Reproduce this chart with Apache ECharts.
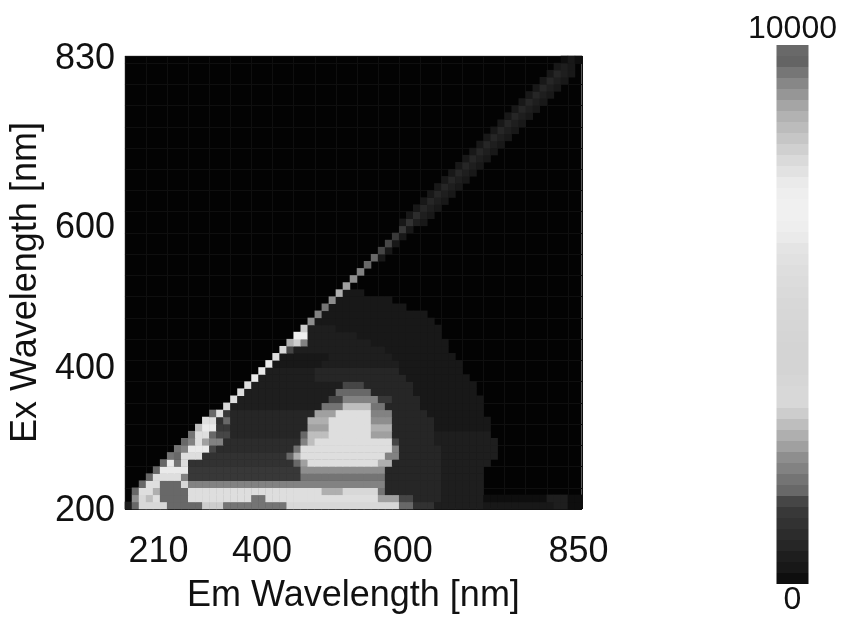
<!DOCTYPE html>
<html><head><meta charset="utf-8">
<script src="https://cdn.jsdelivr.net/npm/echarts@6/dist/echarts.min.js"></script>
<style>html,body{margin:0;padding:0;background:#fff}#c{width:844px;height:619px}#c canvas{filter:blur(0.7px)}</style>
</head><body><div id="c"></div>
<script>
const emWavelengths = []; for (let w = 210; w <= 850; w += 10) emWavelengths.push(w);
const exWavelengths = []; for (let w = 200; w <= 830; w += 10) exWavelengths.push(w);
const emTickLabels = [210, 400, 600, 850];
const exTickLabels = [200, 400, 600, 830];
const scaleMin = 0, scaleMax = 10000;
// grey of each colour-bar step, from 0 (bottom) to 10000 (top)
const barGreys = [14,24,30,38,44,50,56,70,104,116,130,142,160,175,190,205,216,216,214,212,212,212,213,214,215,216,218,220,222,225,228,234,238,240,240,238,234,226,218,208,198,188,178,165,150,135,118,100,105];
// intensity read per row: [firstCol, lastCol, value, lastCol, value, ...], row 0 = Ex 200 nm
const intensityRuns = [
[0, 0,500, 1,1700, 5,3300, 10,1700, 13,3100, 22,1900, 38,3300, 40,1700, 43,1100, 50,500, 60,300, 62,500, 64,100],
[1, 1,2300, 2,3300, 3,2900, 4,5900, 8,1700, 17,5900, 19,1900, 35,5900, 38,2500, 40,1500, 44,700, 50,500, 59,100, 62,500, 64,100],
[1, 1,1700, 3,5900, 4,2700, 8,1700, 27,5900, 30,2700, 35,3300, 36,1900, 44,700, 50,500],
[2, 2,1700, 4,5900, 7,1700, 8,3300, 36,2100, 44,700, 50,500],
[3, 3,1700, 7,5900, 8,2100, 24,1300, 36,1900, 44,700, 50,500],
[4, 4,1700, 8,6400, 24,1300, 36,2300, 44,700, 50,500],
[5, 5,1700, 6,6400, 7,1900, 8,5900, 23,1100, 24,1700, 25,2500, 35,5900, 37,2700, 44,700, 51,500],
[6, 6,1900, 7,1700, 10,5900, 22,1100, 23,1700, 24,2700, 36,5900, 38,2100, 44,700, 52,500],
[7, 7,1900, 8,2100, 11,6400, 12,1500, 23,900, 24,1900, 37,5900, 38,2100, 44,700, 52,500],
[8, 8,1700, 9,2100, 10,5900, 11,2500, 13,2100, 24,900, 25,2100, 26,2900, 37,5900, 38,1500, 43,700, 52,500],
[9, 9,1900, 11,5900, 12,1700, 14,1500, 24,700, 25,1700, 28,2900, 34,5900, 37,2500, 43,700, 51,500],
[10, 10,2900, 12,6400, 14,1300, 25,700, 28,2500, 34,5900, 37,2700, 43,700, 51,300],
[11, 12,5900, 13,1100, 14,1700, 25,700, 28,2700, 34,5900, 37,2300, 43,700, 51,300],
[12, 12,1700, 13,5900, 14,1300, 26,700, 29,2500, 34,5900, 37,2100, 42,700, 50,300],
[14, 14,3300, 27,500, 30,1900, 34,2900, 36,1900, 41,700, 50,300],
[15, 15,5900, 28,500, 30,1500, 35,2100, 37,1300, 41,700, 50,300],
[16, 16,5900, 29,500, 34,1700, 40,700, 49,300],
[17, 17,5900, 30,500, 33,1500, 40,700, 49,300],
[18, 18,6400, 26,500, 39,700, 48,300],
[19, 19,6400, 26,500, 38,700, 47,300],
[20, 20,6400, 27,300, 38,500, 47,300],
[21, 21,5900, 28,300, 37,500, 46,300],
[22, 22,3300, 23,1500, 28,500, 36,500, 45,300],
[23, 23,2700, 24,3100, 25,2100, 28,500, 34,500, 45,300],
[24, 25,6900, 32,500, 44,300],
[25, 25,3100, 29,500, 44,300],
[26, 26,2300, 43,300],
[27, 27,2100, 42,300],
[28, 28,1900, 39,300],
[29, 29,2300, 37,300],
[30, 30,2700, 33,300],
[31, 31,2500],
[32, 32,2300],
[33, 33,2100],
[34, 34,1700],
[35, 35,1700, 36,300],
[36, 36,1500, 37,300],
[37, 37,1500, 38,300],
[38, 38,1300, 39,300],
[39, 39,1300, 40,300],
[39, 39,300, 40,1100, 41,500, 42,300],
[40, 40,300, 41,900, 42,500, 43,300],
[41, 41,300, 42,700, 43,500, 44,300],
[42, 42,300, 43,700, 44,500, 45,300],
[43, 43,300, 44,700, 45,500, 46,300],
[44, 44,300, 45,700, 46,500, 47,300],
[45, 45,300, 46,700, 47,500, 48,300],
[46, 46,300, 47,700, 48,500, 49,300],
[47, 47,300, 48,700, 49,500, 50,300],
[48, 48,300, 49,700, 50,500, 51,300],
[49, 49,300, 50,700, 51,500, 52,300],
[50, 50,300, 51,700, 52,500, 53,300],
[51, 51,300, 52,700, 53,500, 54,300],
[52, 52,300, 53,700, 54,500, 55,300],
[53, 53,300, 54,700, 55,500, 56,300],
[54, 54,300, 55,700, 56,500, 57,300],
[55, 55,300, 56,700, 57,500, 58,300],
[56, 56,300, 57,700, 58,500, 59,300],
[57, 57,300, 58,700, 59,500, 60,300],
[58, 58,300, 59,700, 60,500, 61,300],
[59, 59,300, 60,700, 61,500, 62,300],
[60, 60,300, 61,700, 62,500, 63,300],
[61, 61,300, 62,500, 63,300],
[62, 62,100, 63,300, 64,100]
];
const cells = [];
intensityRuns.forEach((run, row) => {
  let col = run[0];
  for (let i = 1; i < run.length; i += 2) {
    for (; col <= run[i]; col++) cells.push([col, row, run[i + 1]]);
  }
});
const binSize = (scaleMax - scaleMin) / barGreys.length;
const pieces = barGreys.map((g, i) => ({
  min: scaleMin + i * binSize, max: scaleMin + (i + 1) * binSize,
  color: 'rgb(' + g + ',' + g + ',' + g + ')'
}));
const font = '"Liberation Sans", Arial, sans-serif';
const chart = echarts.init(document.getElementById('c'), null, {renderer: 'canvas'});
chart.setOption({
  animation: false,
  backgroundColor: '#fff',
  textStyle: {fontFamily: font, color: '#111'},
  grid: {left: 124, top: 56, width: 458, height: 454, show: true, backgroundColor: '#030303', borderColor: '#b0b0b0', borderWidth: 1},
  tooltip: {show: false},
  xAxis: {
    type: 'category', data: emWavelengths,
    name: 'Em Wavelength [nm]', nameLocation: 'middle', nameGap: 69,
    nameTextStyle: {fontSize: 36, color: '#111', fontFamily: font},
    axisLine: {show: false}, axisTick: {show: false},
    splitLine: {show: true, interval: 2, lineStyle: {color: '#0f0f0f', width: 1}},
    axisLabel: {
      fontSize: 36, color: '#111', fontFamily: font, margin: 25, alignMinLabel: 'left',
      interval: (i, v) => emTickLabels.includes(+v)
    }
  },
  yAxis: {
    type: 'category', data: exWavelengths,
    name: 'Ex Wavelength [nm]', nameLocation: 'middle', nameGap: 77,
    nameTextStyle: {fontSize: 36, color: '#111', fontFamily: font},
    axisLine: {show: false}, axisTick: {show: false},
    splitLine: {show: true, interval: 2, lineStyle: {color: '#0f0f0f', width: 1}},
    axisLabel: {
      fontSize: 36, color: '#111', fontFamily: font, margin: 10,
      verticalAlign: 'top', lineHeight: 11, verticalAlignMaxLabel: 'middle',
      interval: (i, v) => exTickLabels.includes(+v)
    }
  },
  visualMap: {
    type: 'piecewise', seriesIndex: 0, dimension: 2,
    pieces: pieces, orient: 'vertical', left: 748, top: 13,
    itemWidth: 32, itemHeight: 11, itemGap: 0, itemSymbol: 'rect',
    showLabel: false, selectedMode: false, hoverLink: false,
    text: ['10000', '0'], textGap: 8, padding: 0,
    textStyle: {fontSize: 32, color: '#111', fontFamily: font}
  },
  series: [{type: 'heatmap', data: cells, itemStyle: {borderWidth: 0}, emphasis: {disabled: true}}]
});
</script></body></html>
